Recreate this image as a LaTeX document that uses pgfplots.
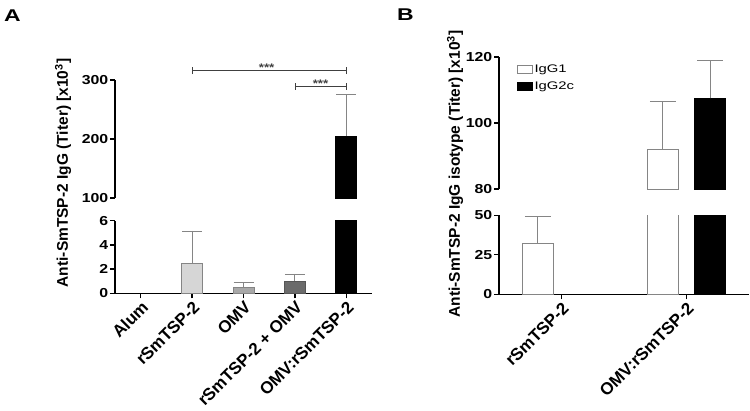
\documentclass[border=0pt]{standalone}
\usepackage{fontspec}
\setmainfont{Liberation Sans}
\newfontfamily\wide{Liberation Sans}[FakeStretch=1.22]
\newfontfamily\wider{Liberation Sans}[FakeStretch=1.35]
\usepackage{pgfplots}
\pgfplotsset{compat=1.18}
\definecolor{ebar}{HTML}{858585}
\definecolor{lgray}{HTML}{D6D6D6}
\definecolor{mgray}{HTML}{A8A8A8}
\definecolor{dgray}{HTML}{6B6B6B}
\definecolor{brk}{HTML}{404040}
\pgfplotsset{
  base/.style={
    scale only axis,
    /pgf/number format/assume math mode=true,
    axis line style={line width=1.3pt},
    every tick/.style={line width=1.3pt, black},
    tick align=outside,
    major tick length=5pt,
    yticklabel style={font=\fontsize{13}{13}\selectfont\wide\bfseries, inner sep=1.5pt},
    xticklabel style={font=\fontsize{17}{17}\selectfont\bfseries, rotate=45, anchor=north east, inner sep=1pt},
    clip mode=individual,
  },
  boxlegend/.style={legend image code/.code={\draw[##1] (0pt,-4pt) rectangle (15pt,4pt);}},
  ebA/.style={error bars/.cd, y dir=plus, y explicit, error mark=|,
    error bar style={ebar, line width=0.8pt},
    error mark options={ebar, line width=0.8pt, mark size=10pt}},
  ebB/.style={error bars/.cd, y dir=plus, y explicit, error mark=|,
    error bar style={ebar, line width=0.8pt},
    error mark options={ebar, line width=0.8pt, mark size=13pt}},
}
\begin{document}
\begin{tikzpicture}
\path[use as bounding box] (0pt,0pt) rectangle (750pt,-410pt);
% ---------------- Panel A lower ----------------
\begin{axis}[base,
  at={(115pt,-293.3pt)}, anchor=south west,
  width=257pt, height=72.6pt,
  xmin=-0.5, xmax=4.5, ymin=0, ymax=6,
  axis x line*=bottom, axis y line*=left,
  ytick={0,2,4,6},
  xtick={0,1,2,3,4},
  xticklabels={Alum, rSmTSP-2, OMV, rSmTSP-2 + OMV, OMV:rSmTSP-2},
]
\addplot[ybar, bar width=21pt, bar shift=0pt, fill=lgray, draw=ebar, line width=0.8pt, ebA]
  coordinates {(1,2.5) +- (0,2.65)};
\addplot[ybar, bar width=21pt, bar shift=0pt, fill=mgray, draw=ebar, line width=0.8pt, ebA]
  coordinates {(2,0.5) +- (0,0.4)};
\addplot[ybar, bar width=21pt, bar shift=0pt, fill=dgray, draw=dgray!80!black, line width=0.8pt, ebA]
  coordinates {(3,1.0) +- (0,0.6)};
\addplot[ybar, bar width=21pt, bar shift=0pt, fill=black, draw=black, line width=0.8pt]
  coordinates {(4,205)};
\end{axis}
% ---------------- Panel A upper ----------------
\begin{axis}[base,
  at={(115pt,-198pt)}, anchor=south west,
  width=257pt, height=118pt,
  xmin=-0.5, xmax=4.5, ymin=100, ymax=300,
  axis x line=none, axis y line*=left,
  ytick={100,200,300},
]
\addplot[ybar, bar width=21pt, bar shift=0pt, fill=black, draw=black, line width=0.8pt, ebA]
  coordinates {(4,205) +- (0,70)};
\draw[brk, line width=0.8pt] (axis cs:1,315.8) -- (axis cs:4,315.8);
\draw[brk, line width=0.8pt] ([yshift=-3.5pt]axis cs:1,315.8) -- ([yshift=3.5pt]axis cs:1,315.8);
\draw[brk, line width=0.8pt] ([yshift=-3.5pt]axis cs:4,315.8) -- ([yshift=3.5pt]axis cs:4,315.8);
\draw[brk, line width=0.8pt] (axis cs:3,289.8) -- (axis cs:4,289.8);
\draw[brk, line width=0.8pt] ([yshift=-3.5pt]axis cs:3,289.8) -- ([yshift=3.5pt]axis cs:3,289.8);
\draw[brk, line width=0.8pt] ([yshift=-3.5pt]axis cs:4,289.8) -- ([yshift=3.5pt]axis cs:4,289.8);
\node[brk, anchor=base, yshift=-1pt, inner sep=0pt, font=\fontsize{11}{11}\selectfont\wide\bfseries] at (axis cs:2.45,315.8) {***};
\node[brk, anchor=base, yshift=-1pt, inner sep=0pt, font=\fontsize{11}{11}\selectfont\wide\bfseries] at (axis cs:3.5,289.8) {***};
\end{axis}
% ---------------- Panel B upper ----------------
\begin{axis}[base,
  at={(499pt,-189pt)}, anchor=south west,
  width=250pt, height=132pt,
  xmin=-0.5, xmax=1.5, ymin=80, ymax=120,
  axis x line=none, axis y line*=left,
  ytick={80,100,120},
  legend style={draw=none, fill=none, at={(0.07,0.955)}, anchor=north west,
    font=\fontsize{11}{13}\selectfont\wider, inner sep=0pt, row sep=3pt,
    nodes={inner sep=2pt}},
  legend cell align=left,
]
\addplot[ybar, bar width=31pt, bar shift=0pt, fill=white, draw=ebar, line width=0.8pt, boxlegend, ebB]
  coordinates {(0.811,92) +- (0,14.5)};
\addlegendentry{IgG1}
\addplot[ybar, bar width=31pt, bar shift=0pt, fill=black, draw=black, line width=0.8pt, boxlegend, ebB]
  coordinates {(1.189,107.5) +- (0,11.5)};
\addlegendentry{IgG2c}
\end{axis}
% ---------------- Panel B lower ----------------
\begin{axis}[base,
  at={(499pt,-294.3pt)}, anchor=south west,
  width=250pt, height=79pt,
  xmin=-0.5, xmax=1.5, ymin=0, ymax=50,
  axis x line*=bottom, axis y line*=left,
  ytick={0,25,50},
  xtick={0,1},
  xticklabels={rSmTSP-2, OMV:rSmTSP-2},
]
\addplot[ybar, bar width=31pt, bar shift=0pt, fill=white, draw=ebar, line width=0.8pt, ebB]
  coordinates {(-0.189,32) +- (0,17)};
\addplot[ybar, bar width=31pt, bar shift=0pt, fill=white, draw=ebar, line width=0.8pt]
  coordinates {(0.811,92)};
\addplot[ybar, bar width=31pt, bar shift=0pt, fill=black, draw=black, line width=0.8pt]
  coordinates {(1.189,107.5)};
\end{axis}
% ---------------- labels ----------------
\node[rotate=90, font=\fontsize{15.5}{15.5}\selectfont\bfseries] at (63pt,-173pt) {Anti-SmTSP-2 IgG (Titer) [x10\textsuperscript{3}]};
\node[rotate=90, font=\fontsize{15.5}{15.5}\selectfont\bfseries] at (455pt,-174pt) {Anti-SmTSP-2 IgG isotype (Titer) [x10\textsuperscript{3}]};
\node[font=\fontsize{17}{17}\selectfont\wider\bfseries] at (12.5pt,-16pt) {A};
\node[font=\fontsize{17}{17}\selectfont\wider\bfseries] at (405.5pt,-15pt) {B};
\end{tikzpicture}
\end{document}
